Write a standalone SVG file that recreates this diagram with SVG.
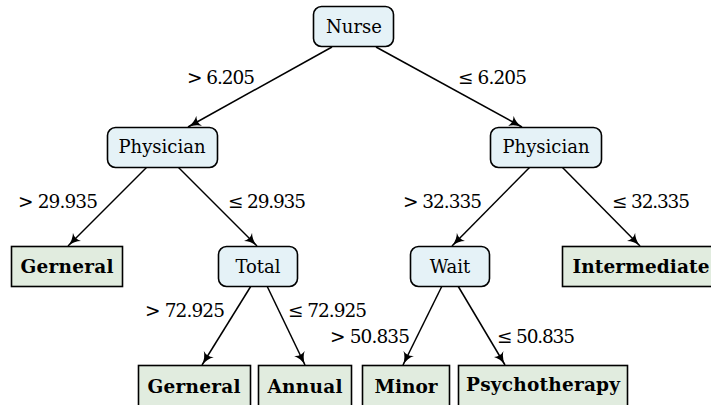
<svg xmlns="http://www.w3.org/2000/svg" width="711" height="405" viewBox="0 0 711 405">
<style>
.bg{fill:#ffffff}
.dec{fill:#e5f2f7;stroke:#000;stroke-width:1.6}
.leaf{fill:#e1ecdf;stroke:#000;stroke-width:1.6}
.t{font-family:"DejaVu Serif","Liberation Serif",serif;font-size:18px;fill:#000;text-anchor:middle}
.b{font-family:"DejaVu Serif","Liberation Serif",serif;font-size:18.5px;font-weight:bold;fill:#000;text-anchor:middle}
.e{font-family:"DejaVu Serif","Liberation Serif",serif;font-size:18.5px;fill:#000}
.c{fill:none;stroke:#000;stroke-width:1.5;marker-end:url(#arr)}
</style>
<defs>
<marker id="arr" viewBox="0 0 12 10" refX="11" refY="5" markerWidth="14" markerHeight="11.7" markerUnits="userSpaceOnUse" orient="auto">
<path d="M0,0 Q4,4 11,5 Q4,6 0,10 Q3,5 0,0 Z" fill="#000"/>
</marker>
</defs>
<rect class="bg" x="0" y="0" width="711" height="405"/>
<g id="connectors">
<line class="c" x1="332" y1="47" x2="188" y2="127"/>
<line class="c" x1="376" y1="47" x2="522" y2="127"/>
<line class="c" x1="147" y1="167" x2="68" y2="246"/>
<line class="c" x1="178" y1="167" x2="257" y2="246"/>
<line class="c" x1="530" y1="167" x2="452" y2="246"/>
<line class="c" x1="562" y1="167" x2="640" y2="246"/>
<line class="c" x1="251" y1="286" x2="202" y2="365"/>
<line class="c" x1="267" y1="286" x2="305" y2="365"/>
<line class="c" x1="442" y1="286" x2="403" y2="365"/>
<line class="c" x1="458" y1="286" x2="505" y2="365"/>
<text class="e" x="187" y="84" textLength="68">&gt; 6.205</text>
<text class="e" x="458" y="84" textLength="69">≤ 6.205</text>
<text class="e" x="18" y="208" textLength="80">&gt; 29.935</text>
<text class="e" x="228" y="208" textLength="78">≤ 29.935</text>
<text class="e" x="403" y="208" textLength="79">&gt; 32.335</text>
<text class="e" x="612" y="208" textLength="78">≤ 32.335</text>
<text class="e" x="145" y="317" textLength="80">&gt; 72.925</text>
<text class="e" x="288" y="317" textLength="79">≤ 72.925</text>
<text class="e" x="330" y="343" textLength="80">&gt; 50.835</text>
<text class="e" x="497" y="343" textLength="78">≤ 50.835</text>
</g>
<g id="nurse">
<rect class="dec" x="313.5" y="6.5" width="80" height="40" rx="8"/>
<text class="t" x="354" y="33">Nurse</text>
</g>
<g id="physician-left">
<rect class="dec" x="107.5" y="127.5" width="110" height="40" rx="8"/>
<text class="t" x="162" y="153">Physician</text>
</g>
<g id="physician-right">
<rect class="dec" x="490.5" y="127.5" width="111" height="40" rx="8"/>
<text class="t" x="546" y="153">Physician</text>
</g>
<g id="gerneral-1">
<rect class="leaf" x="11.5" y="246.5" width="111" height="40"/>
<text class="b" x="67" y="273" textLength="93">Gerneral</text>
</g>
<g id="total">
<rect class="dec" x="218.5" y="246.5" width="79" height="40" rx="8"/>
<text class="t" x="258" y="273">Total</text>
</g>
<g id="wait">
<rect class="dec" x="410.5" y="246.5" width="79" height="40" rx="8"/>
<text class="t" x="450" y="273">Wait</text>
</g>
<g id="intermediate">
<rect class="leaf" x="562.5" y="246.5" width="152" height="40"/>
<text class="b" x="641" y="273" textLength="137">Intermediate</text>
</g>
<g id="gerneral-2">
<rect class="leaf" x="138.5" y="365.5" width="112" height="42"/>
<text class="b" x="194" y="393" textLength="93">Gerneral</text>
</g>
<g id="annual">
<rect class="leaf" x="258.5" y="365.5" width="93" height="42"/>
<text class="b" x="305" y="393" textLength="75">Annual</text>
</g>
<g id="minor">
<rect class="leaf" x="362.5" y="365.5" width="87" height="42"/>
<text class="b" x="406" y="393" textLength="63">Minor</text>
</g>
<g id="psychotherapy">
<rect class="leaf" x="458.5" y="365.5" width="169" height="42"/>
<text class="b" x="543" y="391" textLength="154">Psychotherapy</text>
</g>
</svg>
